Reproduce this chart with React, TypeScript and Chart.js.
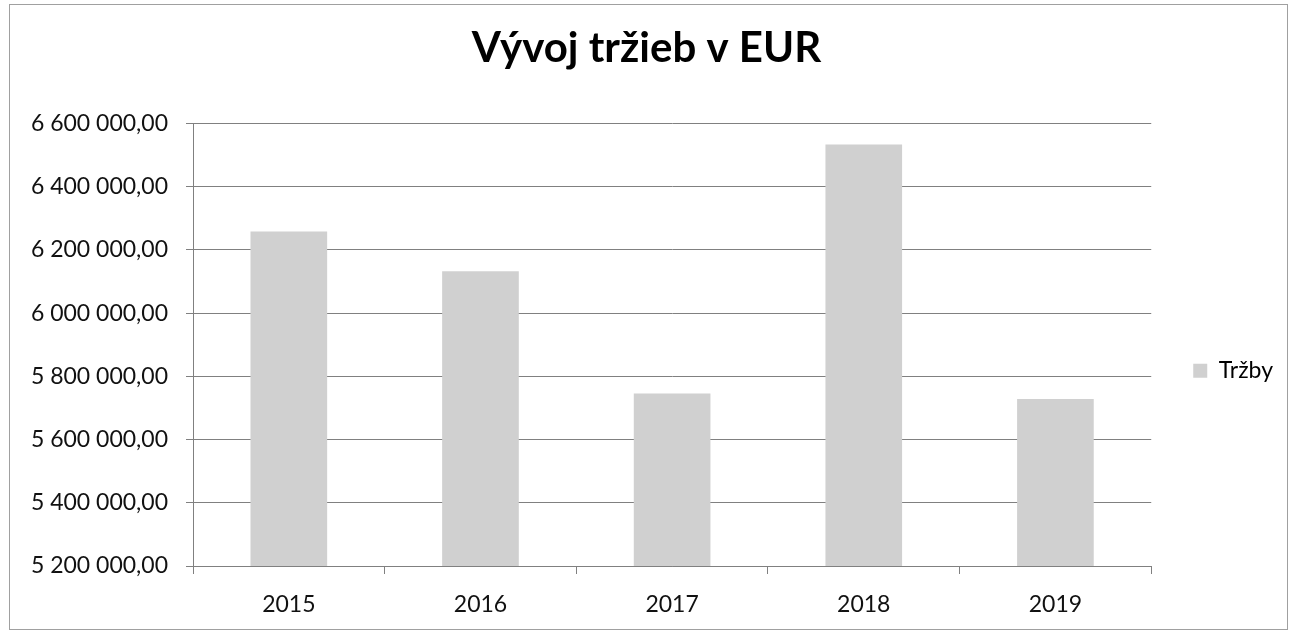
import React, { useEffect, useRef } from "react";
import { Chart, registerables } from "chart.js";

Chart.register(...registerables);

const categories: string[] = ["2015", "2016", "2017", "2018", "2019"];
const seriesName = "Tržby";
const revenues: number[] = [6258000, 6132000, 5746000, 6533000, 5728000];
const titleText = "Vývoj tržieb v EUR";
const yMin = 5200000;
const yMax = 6600000;
const yStep = 200000;

const FONT = "Lato, 'Open Sans', sans-serif";

function formatSk(v: number): string {
  const fixed = v.toFixed(2);
  const [intPart, dec] = fixed.split(".");
  const withSpaces = intPart.replace(/\B(?=(\d{3})+(?!\d))/g, " ");
  return withSpaces + "," + dec;
}

export default function App() {
  const canvasRef = useRef<HTMLCanvasElement | null>(null);

  useEffect(() => {
    document.body.style.margin = "0";
    const canvas = canvasRef.current;
    if (!canvas) return;
    const chart = new Chart(canvas, {
      type: "bar",
      data: {
        labels: categories,
        datasets: [
          {
            label: seriesName,
            data: revenues,
            backgroundColor: "#d0d0d0",
            borderWidth: 0,
            barPercentage: 0.4,
            categoryPercentage: 1,
          },
        ],
      },
      options: {
        animation: false,
        responsive: false,
        layout: { padding: { left: 10, right: 8, top: 10, bottom: 20 } },
        plugins: {
          title: {
            display: true,
            text: titleText,
            color: "#000",
            font: { family: FONT, size: 42, weight: "bold" },
            padding: { top: 13, bottom: 50 },
          },
          legend: {
            display: true,
            position: "right",
            title: {
              display: true,
              text: "",
              font: { size: 12 },
              padding: { top: 104, bottom: 0 },
            },
            labels: {
              color: "#000",
              font: { family: FONT, size: 23 },
              boxWidth: 14,
              boxHeight: 14,
              padding: 42,
            },
          },
          tooltip: { enabled: false },
        },
        scales: {
          x: {
            grid: {
              display: true,
              drawOnChartArea: false,
              drawTicks: true,
              tickLength: 8,
              color: "#808080",
              offset: true,
            },
            border: { display: true, color: "#808080" },
            ticks: {
              color: "#111",
              font: { family: FONT, size: 23 },
              padding: 17,
            },
            afterFit: (scale: any) => {
              scale.height = 47;
            },
          },
          y: {
            min: yMin,
            max: yMax,
            grid: {
              color: "#808080",
              lineWidth: 1,
              drawTicks: true,
              tickLength: 7,
            },
            border: { display: true, color: "#808080" },
            ticks: {
              stepSize: yStep,
              color: "#111",
              font: { family: FONT, size: 23 },
              padding: 18,
              callback: (v: any) => formatSk(Number(v)),
            },
            afterFit: (scale: any) => {
              scale.width = 183;
            },
          },
        },
      },
    });
    return () => chart.destroy();
  }, []);

  return (
    <div style={{ position: "relative", width: 1291, height: 633, background: "#fff" }}>
      <canvas ref={canvasRef} width={1291} height={633} style={{ position: "absolute", left: 0, top: 0 }} />
      <div
        style={{
          position: "absolute",
          left: 9,
          top: 4,
          width: 1279,
          height: 626,
          border: "1px solid #a0a0a0",
          boxSizing: "border-box",
          pointerEvents: "none",
        }}
      />
    </div>
  );
}
